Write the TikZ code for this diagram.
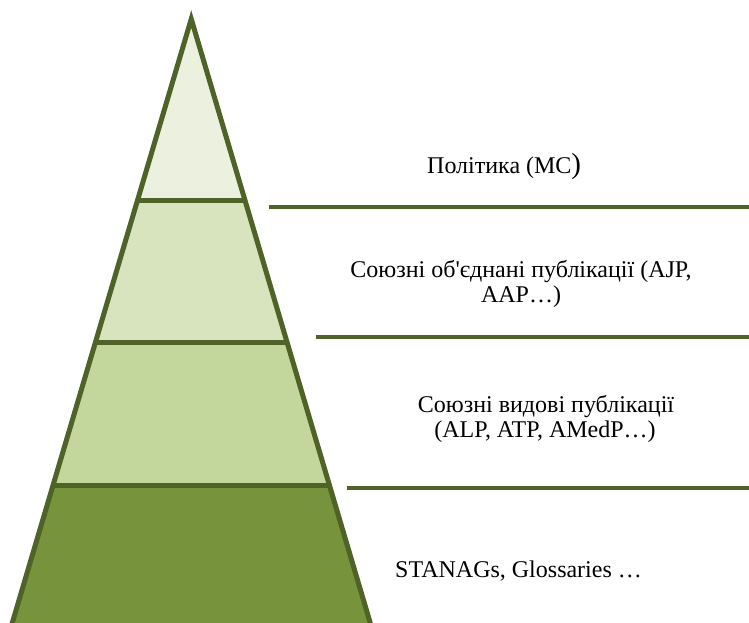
\documentclass[tikz,border=0pt]{standalone}
\usepackage{fontspec}
\setmainfont{Liberation Serif}
\definecolor{edgegreen}{HTML}{4F6228}
\definecolor{lay1}{HTML}{EBF1DE}
\definecolor{lay2}{HTML}{D7E4BD}
\definecolor{lay3}{HTML}{C3D69B}
\definecolor{lay4}{HTML}{77933C}
\tikzset{
  layerstroke/.style={draw=edgegreen,line width=5pt,line join=miter},
  sepline/.style={draw=edgegreen,line width=4.5pt},
  lbl/.style={inner sep=0pt,font=\fontsize{24}{26}\selectfont,text=black}
}
\begin{document}
\begin{tikzpicture}[x=1pt,y=-1pt]
\useasboundingbox (0,0) rectangle (749,623);
\clip (0,0) rectangle (749,623);
% coordinates of the pyramid
\coordinate (apex) at (191.25,19);
\coordinate (l1) at (137.6,200); \coordinate (r1) at (244.9,200);
\coordinate (l2) at (95.5,342);  \coordinate (r2) at (287.0,342);
\coordinate (l3) at (53.1,485);  \coordinate (r3) at (329.4,485);
\coordinate (l4) at (7.2,640);   \coordinate (r4) at (375.3,640);
% fills
\fill[lay1] (apex) -- (r1) -- (l1) -- cycle;
\fill[lay2] (l1) -- (r1) -- (r2) -- (l2) -- cycle;
\fill[lay3] (l2) -- (r2) -- (r3) -- (l3) -- cycle;
\fill[lay4] (l3) -- (r3) -- (r4) -- (l4) -- cycle;
% outline and separators
\draw[layerstroke] (l4) -- (apex) -- (r4) -- cycle;
\draw[layerstroke] (l1) -- (r1);
\draw[layerstroke] (l2) -- (r2);
\draw[layerstroke] (l3) -- (r3);
% right-hand rules
\coordinate (s1a) at (269,207); \coordinate (s1b) at (749,207);
\coordinate (s2a) at (316,337); \coordinate (s2b) at (749,337);
\coordinate (s3a) at (347,488); \coordinate (s3b) at (749,488);
\draw[sepline] (s1a) -- (s1b);
\draw[sepline] (s2a) -- (s2b);
\draw[sepline] (s3a) -- (s3b);
% labels
\node[lbl,anchor=base west] (t1) at (427,173) {Політика (МС{\fontsize{29}{30}\selectfont )}};
\node[lbl,anchor=base] (t2a) at (521,277) {Союзні об\textquotesingle єднані публікації (AJP,};
\node[lbl,anchor=base] (t2b) at (521,302) {AAP…)};
\node[lbl,anchor=base] (t3a) at (546,412) {Союзні видові публікації};
\node[lbl,anchor=base] (t3b) at (545,437) {(ALP, ATP, AMedP…)};
\node[lbl,anchor=base west] (t4) at (395,577) {STANAGs, Glossaries …};
\end{tikzpicture}
\end{document}
